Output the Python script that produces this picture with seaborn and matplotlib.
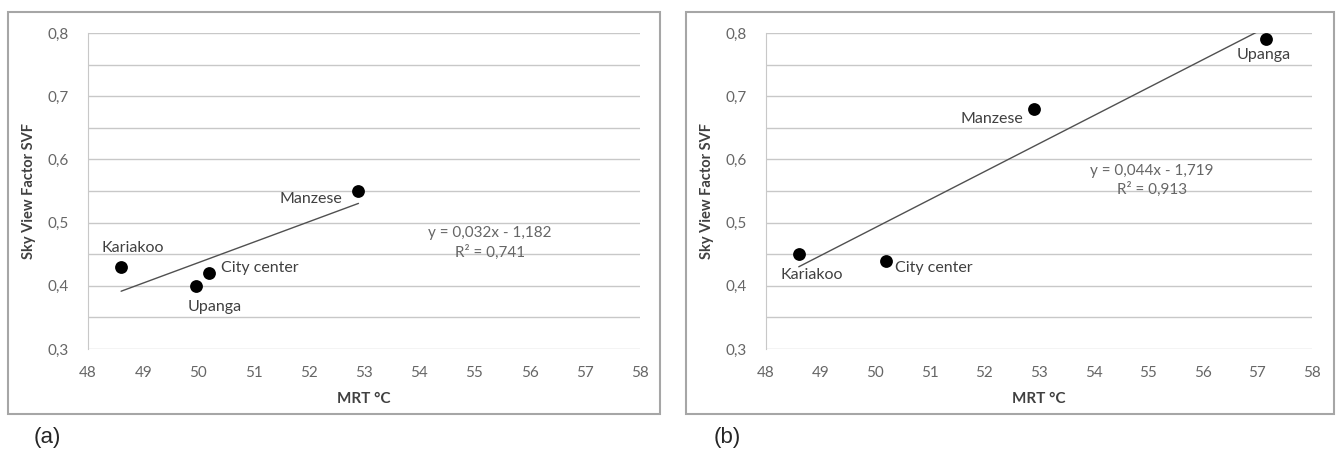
import numpy as np
import pandas as pd
import matplotlib
matplotlib.use("Agg")
import matplotlib.pyplot as plt
from matplotlib.patches import Rectangle
import seaborn as sns

# ---- data ----
sites_a = ["Kariakoo", "Upanga", "City center", "Manzese"]
mrt_a = [48.6, 49.95, 50.2, 52.9]
svf_a = [0.43, 0.40, 0.42, 0.55]

sites_b = ["Kariakoo", "City center", "Manzese", "Upanga"]
mrt_b = [48.6, 50.2, 52.9, 57.15]
svf_b = [0.45, 0.44, 0.68, 0.79]

eq_a = ["y = 0,032x - 1,182", "R² = 0,741"]
eq_b = ["y = 0,044x - 1,719", "R² = 0,913"]

x_ticks = [48, 49, 50, 51, 52, 53, 54, 55, 56, 57, 58]
y_ticks = [0.3, 0.4, 0.5, 0.6, 0.7, 0.8]
y_tick_labels = ["0,3", "0,4", "0,5", "0,6", "0,7", "0,8"]
y_grid = [0.3, 0.35, 0.4, 0.45, 0.5, 0.55, 0.6, 0.65, 0.7, 0.75, 0.8]

sns.set_style("white")
plt.rcParams["font.family"] = ["Lato", "DejaVu Sans"]

W, H = 1337, 450
fig = plt.figure(figsize=(W / 100, H / 100), dpi=100)

def fx(px):
    return px / W

def fy(py):
    return 1 - py / H

# panel frames
for x0, x1 in [(8, 660), (686, 1334)]:
    fig.patches.append(Rectangle((fx(x0), fy(414)), fx(x1) - fx(x0), fy(12) - fy(414),
                                 transform=fig.transFigure, fill=False,
                                 edgecolor="#a6a6a6", linewidth=1.5, zorder=0))

text_col = "#404040"
tick_col = "#666666"

def panel(left_px, right_px, sites, mrt, svf, offsets, eq, eq_pos):
    ax = fig.add_axes([fx(left_px), fy(349), fx(right_px) - fx(left_px), fy(33) - fy(349)])
    df = pd.DataFrame({"site": sites, "MRT": mrt, "SVF": svf})
    for g in y_grid:
        ax.axhline(g, color="#c8c8c8", linewidth=1.0, zorder=0)
    sns.regplot(data=df, x="MRT", y="SVF", ax=ax, scatter=False, ci=None, truncate=True,
                line_kws={"color": "#505050", "linewidth": 1.0})
    sns.scatterplot(data=df, x="MRT", y="SVF", ax=ax, color="black", s=85,
                    edgecolor="black", linewidth=0, zorder=5)
    for (s, xv, yv), (dx, dy, ha) in zip(zip(sites, mrt, svf), offsets):
        ax.annotate(s, (xv, yv), xytext=(dx, dy), textcoords="offset pixels",
                    ha=ha, va="center", fontsize=11.5, color=text_col)
    ax.text(eq_pos[0], eq_pos[1], eq[0] + "\n" + eq[1], ha="center", va="center",
            fontsize=11, color=tick_col, linespacing=1.35)
    ax.set_xlim(48, 58)
    ax.set_ylim(0.3, 0.8)
    ax.set_xticks(x_ticks)
    ax.set_xticklabels([str(t) for t in x_ticks])
    ax.set_yticks(y_ticks)
    ax.set_yticklabels(y_tick_labels)
    ax.tick_params(axis="both", length=0, labelsize=11, colors=tick_col)
    ax.tick_params(axis="x", pad=12)
    ax.tick_params(axis="y", pad=14)
    for sp in ["top", "right", "bottom"]:
        ax.spines[sp].set_visible(False)
    ax.spines["left"].set_color("#c8c8c8")
    ax.set_xlabel("MRT °C", fontsize=11, fontweight="bold", color=text_col, labelpad=9)
    ax.set_ylabel("Sky View Factor SVF", fontsize=10.5, fontweight="bold", color=text_col, labelpad=8)
    return ax

off_a = [(12, 19, "center"), (19, -21, "center"), (12, 5, "left"), (-16, -8, "right")]
panel(88, 640, sites_a, mrt_a, svf_a, off_a, eq_a, (55.28, 0.468))

off_b = [(13, -21, "center"), (9, -7, "left"), (-10, -10, "right"), (-2, -16, "center")]
panel(766, 1312, sites_b, mrt_b, svf_b, off_b, eq_b, (55.07, 0.567))

fig.text(fx(34), fy(437), "(a)", fontsize=16, family="Liberation Sans", va="center", ha="left")
fig.text(fx(714), fy(437), "(b)", fontsize=16, family="Liberation Sans", va="center", ha="left")

fig.savefig("out.png", dpi=100)
